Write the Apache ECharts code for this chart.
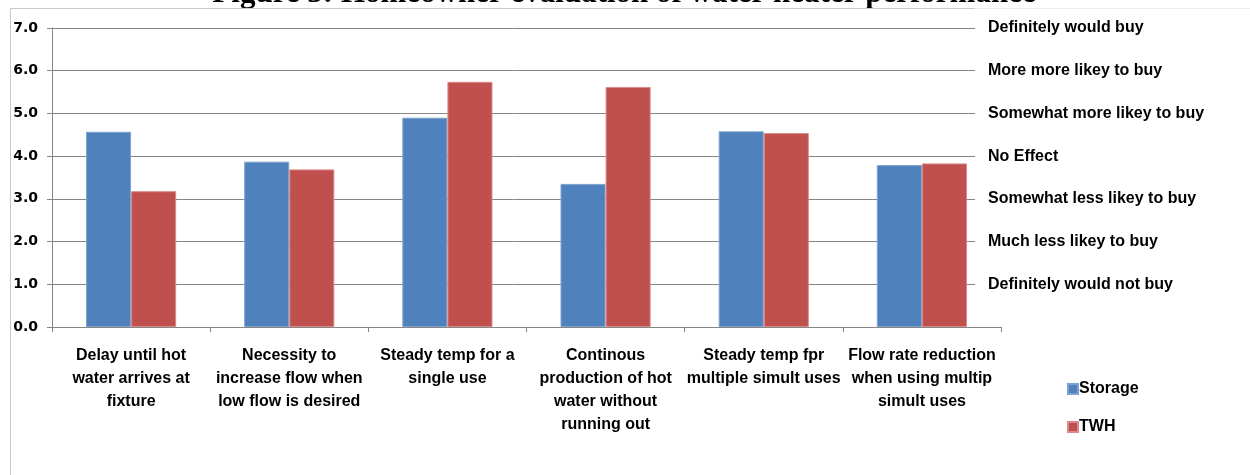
<!DOCTYPE html>
<html>
<head>
<meta charset="utf-8">
<script src="https://cdn.jsdelivr.net/npm/echarts@6/dist/echarts.min.js"></script>
<style>
html,body{margin:0;padding:0;background:#fff;}
#chart{width:1250px;height:475px;}
</style>
</head>
<body>
<div id="chart"></div>
<script>
const titleText = 'Figure 3: Homeowner evaluation of water heater performance';
const categories = [
  'Delay until hot\nwater arrives at\nfixture',
  'Necessity to\nincrease flow when\nlow flow is desired',
  'Steady temp for a\nsingle use',
  'Continous\nproduction of hot\nwater without\nrunning out',
  'Steady temp fpr\nmultiple simult uses',
  'Flow rate reduction\nwhen using multip\nsimult uses'
];
const storage = [4.57, 3.87, 4.90, 3.35, 4.58, 3.79];
const twh = [3.18, 3.69, 5.74, 5.62, 4.54, 3.83];
const leftTicks = ['0.0','1.0','2.0','3.0','4.0','5.0','6.0','7.0'];
const rightTicks = ['', 'Definitely would not buy', 'Much less likey to buy', 'Somewhat less likey to buy',
  'No Effect', 'Somewhat more likey to buy', 'More more likey to buy', 'Definitely would buy'];

const chart = echarts.init(document.getElementById('chart'));
const labelFont = '"Liberation Sans Narrow", "Liberation Sans", sans-serif';
chart.setOption({
  animation: false,
  backgroundColor: '#fff',
  graphic: [
    { type: 'text', x: 624, y: -22, z: 1, style: { text: titleText, font: 'bold 31px "Liberation Serif", serif', fill: '#000', textAlign: 'center' } },
    { type: 'line', z: 2, shape: { x1: 10.5, y1: 8.5, x2: 975, y2: 8.5 }, style: { stroke: '#c8c8c8', lineWidth: 1 } },
    { type: 'line', z: 2, shape: { x1: 975, y1: 8.5, x2: 1250, y2: 8.5 }, style: { stroke: '#eeeeee', lineWidth: 1 } },
    { type: 'line', z: 2, shape: { x1: 10.5, y1: 8.5, x2: 10.5, y2: 475 }, style: { stroke: '#c8c8c8', lineWidth: 1 } }
  ],
  legend: {
    orient: 'vertical', left: 1067, top: 381, padding: 0,
    itemWidth: 10, itemHeight: 10, itemGap: 22,
    icon: 'rect',
    textStyle: { fontFamily: labelFont, fontWeight: 'bold', fontSize: 16, color: '#000', padding: [0,0,0,-4] },
    data: ['Storage', 'TWH']
  },
  grid: [
    { left: 52, right: 249, top: 28, bottom: 148 },
    { left: 52, right: 275, top: 28, bottom: 148 }
  ],
  xAxis: [
    {
      type: 'category', data: categories, gridIndex: 0,
      axisLine: { lineStyle: { color: '#868686' } },
      axisTick: { show: true, length: 5, lineStyle: { color: '#868686' } },
      axisLabel: { interval: 0, margin: 17, fontFamily: labelFont, fontWeight: 'bold', fontSize: 16, lineHeight: 23, color: '#000' }
    },
    { type: 'value', gridIndex: 1, min: 0, max: 1, show: false }
  ],
  yAxis: [
    {
      type: 'value', min: 0, max: 7, interval: 1, gridIndex: 0,
      axisLine: { show: true, lineStyle: { color: '#868686' } },
      axisTick: { show: true, length: 5, lineStyle: { color: '#868686' } },
      splitLine: { show: false },
      axisLabel: { margin: 14, fontFamily: '"DejaVu Sans", sans-serif', fontWeight: 'bold', fontSize: 14, color: '#000',
        formatter: v => leftTicks[Math.round(v)] }
    },
    {
      type: 'value', min: 0, max: 7, interval: 1, gridIndex: 1, position: 'right',
      axisLine: { show: false },
      axisTick: { show: false },
      splitLine: { show: true, lineStyle: { color: '#868686' } },
      axisLabel: { margin: 13, fontFamily: labelFont, fontWeight: 'bold', fontSize: 16, color: '#000',
        formatter: v => rightTicks[Math.round(v)] }
    }
  ],
  series: [
    { name: 'Storage', type: 'bar', data: storage, barGap: '0%', barCategoryGap: '43%', z: 3,
      itemStyle: { color: '#4F81BD', borderColor: '#7ea2d0', borderWidth: 1 } },
    { name: 'TWH', type: 'bar', data: twh, z: 3,
      itemStyle: { color: '#C0504D', borderColor: '#d98a88', borderWidth: 1 } }
  ]
});
</script>
</body>
</html>
